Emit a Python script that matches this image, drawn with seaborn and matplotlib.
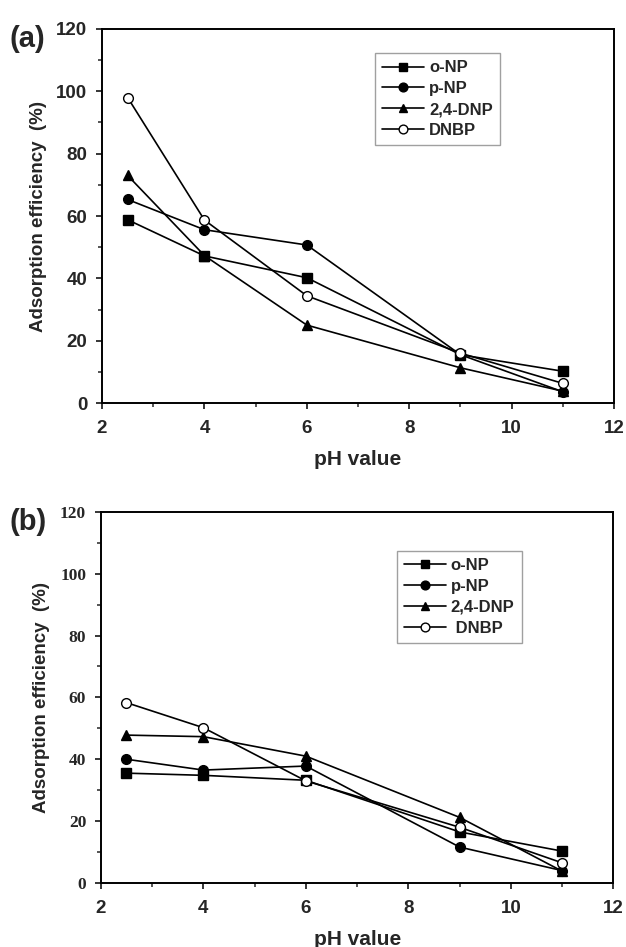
import matplotlib
matplotlib.use("Agg")
import matplotlib.pyplot as plt
import seaborn as sns
from matplotlib.ticker import MultipleLocator

# data
ph = [2.5, 4, 6, 9, 11]
compounds = ["o-NP", "p-NP", "2,4-DNP", "DNBP"]

# panel (a)
a_onp = [58.8, 47.2, 40.2, 15.5, 10.2]
a_pnp = [65.3, 55.6, 50.7, 15.5, 3.6]
a_dnp = [73.0, 47.3, 25.0, 11.3, 3.8]
a_dnbp = [98.0, 58.7, 34.4, 16.0, 6.3]

# panel (b)
b_onp = [35.5, 34.8, 33.2, 16.5, 10.3]
b_pnp = [40.0, 36.5, 37.8, 11.6, 4.0]
b_dnp = [47.8, 47.3, 41.0, 21.2, 3.8]
b_dnbp = [58.3, 50.2, 33.0, 18.0, 6.5]

markers = ["s", "o", "^", "o"]
faces = ["black", "black", "black", "white"]

sns.set_style("ticks")
plt.rcParams["font.family"] = ["Liberation Sans", "DejaVu Sans"]
plt.rcParams["font.weight"] = "bold"

fig = plt.figure(figsize=(6.26, 9.47), dpi=100)
ax_a = fig.add_axes([0.163, 0.5744, 0.818, 0.395])
ax_b = fig.add_axes([0.161, 0.0676, 0.819, 0.392])


def draw_panel(ax, series, labels, legend_pos, serif_y=False):
    for name, vals, m, fc in zip(labels, series, markers, faces):
        sns.lineplot(x=ph, y=vals, ax=ax, color="black", lw=1.2, marker=m,
                     markersize=7, markerfacecolor=fc, markeredgecolor="black",
                     markeredgewidth=1.0, label=name)
    ax.set_xlim(2, 12)
    ax.set_ylim(0, 120)
    ax.xaxis.set_major_locator(MultipleLocator(2))
    ax.xaxis.set_minor_locator(MultipleLocator(1))
    ax.yaxis.set_major_locator(MultipleLocator(20))
    ax.yaxis.set_minor_locator(MultipleLocator(10))
    ax.tick_params(which="major", direction="out", length=4.5, width=1.3,
                   labelsize=13.5, top=False, right=False)
    ax.tick_params(axis="x", which="major", pad=8)
    ax.tick_params(axis="y", which="major", pad=6)
    ax.tick_params(which="minor", direction="out", length=3, width=1.1,
                   top=False, right=False)
    for s in ax.spines.values():
        s.set_linewidth(1.4)
        s.set_color("black")
    for lab in ax.get_xticklabels() + ax.get_yticklabels():
        lab.set_fontweight("bold")
    if serif_y:
        for lab in ax.get_yticklabels():
            lab.set_family(["Liberation Serif", "DejaVu Serif"])
            lab.set_fontsize(12.5)
    ax.set_xlabel("pH value", fontsize=15, fontweight="bold", labelpad=9)
    ax.set_ylabel("Adsorption efficiency  (%)", fontsize=13.5,
                  fontweight="bold", labelpad=7)
    leg = ax.legend(loc="upper left", bbox_to_anchor=legend_pos, frameon=True,
                    fancybox=False, edgecolor="#888888", fontsize=12,
                    handlelength=2.5, handletextpad=0.3, borderpad=0.45,
                    labelspacing=0.35, borderaxespad=0, markerscale=0.9)
    leg.get_frame().set_linewidth(1.0)
    for t in leg.get_texts():
        t.set_fontweight("bold")


draw_panel(ax_a, [a_onp, a_pnp, a_dnp, a_dnbp], compounds, (0.533, 0.936))
draw_panel(ax_b, [b_onp, b_pnp, b_dnp, b_dnbp],
           compounds[:3] + [" " + compounds[3]], (0.577, 0.895), serif_y=True)

fig.text(0.015, 0.95, "(a)", fontsize=21, fontweight="bold")
fig.text(0.015, 0.44, "(b)", fontsize=21, fontweight="bold")

fig.savefig("out.png", dpi=100)
